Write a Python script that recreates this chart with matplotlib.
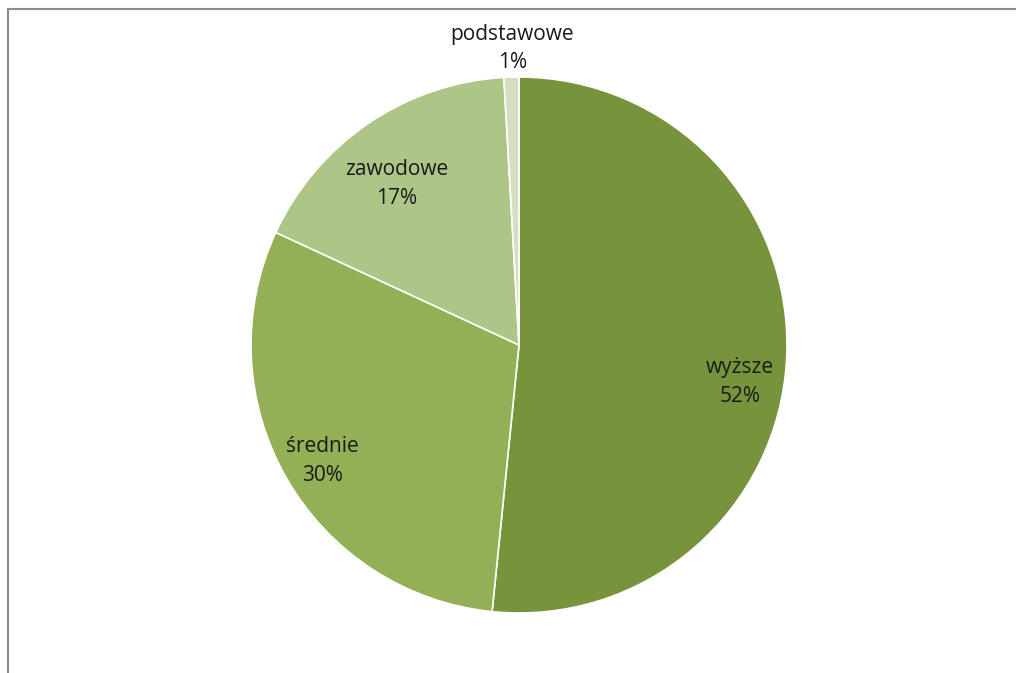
import numpy as np
import matplotlib.pyplot as plt
from matplotlib.lines import Line2D

# Education level shares (clockwise from 12 o'clock)
categories = ['wyższe', 'średnie', 'zawodowe', 'podstawowe']
shares = [51.6, 30.3, 17.2, 0.9]
colors = ['#77933C', '#93B056', '#ADC587', '#D2E0C1']
label_dist = [0.836, 0.853, 0.754, 1.108]
label_shift = [-6.6, 0.8, 3.0, -0.3]  # degrees, nudges label off the wedge midline

W, H = 1016, 673
cx, cy, r = 519, 345, 268

fig = plt.figure(figsize=(W / 100, H / 100), dpi=100)
ax = fig.add_axes([0, 0, 1, 1])

wedges, _ = ax.pie(shares, colors=colors, startangle=90, counterclock=False,
                   radius=1, center=(0, 0), frame=True,
                   wedgeprops=dict(edgecolor='white', linewidth=1.2))
ax.set_xlim(-cx / r, (W - cx) / r)
ax.set_ylim(-(H - cy) / r, cy / r)
ax.set_aspect('auto')
ax.axis('off')

pct = [round(s) for s in shares]
for w, name, p, d, s in zip(wedges, categories, pct, label_dist, label_shift):
    mid = np.deg2rad((w.theta1 + w.theta2) / 2 + s)
    ax.text(d * np.cos(mid), d * np.sin(mid), f'{name}\n{p}%',
            ha='center', va='center', fontsize=15, family='Open Sans',
            color='#1a1a1a', linespacing=1.45)

# chart area border (top and left edges visible)
fig.add_artist(Line2D([8 / W, 1.0], [1 - 9 / H, 1 - 9 / H], color='#8c8c8c', lw=1.5))
fig.add_artist(Line2D([8 / W, 8 / W], [0, 1 - 9 / H], color='#8c8c8c', lw=1.5))

fig.savefig('out.png', dpi=100, facecolor='white')
